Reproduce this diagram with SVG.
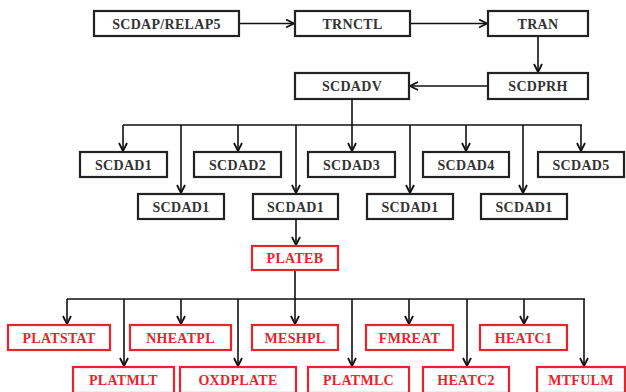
<svg xmlns="http://www.w3.org/2000/svg" width="626" height="392" viewBox="0 0 626 392">
<style>
.b rect{fill:#fff;stroke:#222;stroke-width:2.2}
.r rect{fill:#fff;stroke:#e8232b;stroke-width:2.2}
text{font-family:"Liberation Serif","Times New Roman",serif;font-weight:bold;font-size:14px;letter-spacing:0.3px;text-anchor:middle}
.b text{fill:#333}
.r text{fill:#e8232b}
#connectors path{fill:none;stroke:#111;stroke-width:1.6}
</style>
<defs>
<marker id="ah" viewBox="0 0 10 10" refX="9" refY="5" markerWidth="10" markerHeight="10" markerUnits="userSpaceOnUse" orient="auto">
<path d="M1,1 L9,5 L1,9" fill="none" stroke="#111" stroke-width="1.8"/>
</marker>
</defs>
<g id="connectors">
<path d="M239,23.5 H294" marker-end="url(#ah)"/>
<path d="M410,23.5 H487" marker-end="url(#ah)"/>
<path d="M538,36 V72" marker-end="url(#ah)"/>
<path d="M488,86 H410" marker-end="url(#ah)"/>
<path d="M352,99 V151" marker-end="url(#ah)"/>
<path d="M123,125 H582"/>
<path d="M123,125 V151" marker-end="url(#ah)"/>
<path d="M238,125 V151" marker-end="url(#ah)"/>
<path d="M466,125 V151" marker-end="url(#ah)"/>
<path d="M581,125 V151" marker-end="url(#ah)"/>
<path d="M181,125 V193" marker-end="url(#ah)"/>
<path d="M296,125 V193" marker-end="url(#ah)"/>
<path d="M410,125 V193" marker-end="url(#ah)"/>
<path d="M523,125 V193" marker-end="url(#ah)"/>
<path d="M296,219 V245" marker-end="url(#ah)"/>
<path d="M295,270 V324" marker-end="url(#ah)"/>
<path d="M67,299 H585"/>
<path d="M67,299 V324" marker-end="url(#ah)"/>
<path d="M181,299 V324" marker-end="url(#ah)"/>
<path d="M409,299 V324" marker-end="url(#ah)"/>
<path d="M524,299 V324" marker-end="url(#ah)"/>
<path d="M124,299 V366" marker-end="url(#ah)"/>
<path d="M238,299 V366" marker-end="url(#ah)"/>
<path d="M352,299 V366" marker-end="url(#ah)"/>
<path d="M467,299 V366" marker-end="url(#ah)"/>
<path d="M584,299 V366" marker-end="url(#ah)"/>
</g>
<g id="n_scdap" class="b"><rect x="94" y="11" width="145" height="25"/><text x="166.5" y="28.5">SCDAP/RELAP5</text></g>
<g id="n_trnctl" class="b"><rect x="295" y="11" width="115" height="25"/><text x="352.5" y="28.5">TRNCTL</text></g>
<g id="n_tran" class="b"><rect x="488" y="11" width="100" height="25"/><text x="538" y="28.5">TRAN</text></g>
<g id="n_scdprh" class="b"><rect x="488" y="73" width="100" height="26"/><text x="538" y="91">SCDPRH</text></g>
<g id="n_scdadv" class="b"><rect x="295" y="73" width="114" height="26"/><text x="352" y="91">SCDADV</text></g>
<g id="n_scdad1a" class="b"><rect x="80" y="152" width="87" height="25"/><text x="123.5" y="169.5">SCDAD1</text></g>
<g id="n_scdad2" class="b"><rect x="194" y="152" width="87" height="25"/><text x="237.5" y="169.5">SCDAD2</text></g>
<g id="n_scdad3" class="b"><rect x="308" y="152" width="87" height="25"/><text x="351.5" y="169.5">SCDAD3</text></g>
<g id="n_scdad4" class="b"><rect x="423" y="152" width="86" height="25"/><text x="466" y="169.5">SCDAD4</text></g>
<g id="n_scdad5" class="b"><rect x="538" y="152" width="86" height="25"/><text x="581" y="169.5">SCDAD5</text></g>
<g id="n_scdad1b" class="b"><rect x="138" y="194" width="86" height="25"/><text x="181" y="211.5">SCDAD1</text></g>
<g id="n_scdad1c" class="b"><rect x="253" y="194" width="85" height="25"/><text x="295.5" y="211.5">SCDAD1</text></g>
<g id="n_scdad1d" class="b"><rect x="367" y="194" width="86" height="25"/><text x="410" y="211.5">SCDAD1</text></g>
<g id="n_scdad1e" class="b"><rect x="481" y="194" width="86" height="25"/><text x="524" y="211.5">SCDAD1</text></g>
<g id="n_plateb" class="r"><rect x="252" y="246" width="86" height="24"/><text x="295" y="263">PLATEB</text></g>
<g id="n_platstat" class="r"><rect x="8" y="325" width="102" height="25"/><text x="59" y="342.5">PLATSTAT</text></g>
<g id="n_nheatpl" class="r"><rect x="130" y="325" width="101" height="25"/><text x="180.5" y="342.5">NHEATPL</text></g>
<g id="n_meshpl" class="r"><rect x="252" y="325" width="86" height="25"/><text x="295" y="342.5">MESHPL</text></g>
<g id="n_fmreat" class="r"><rect x="366" y="325" width="87" height="25"/><text x="409.5" y="342.5">FMREAT</text></g>
<g id="n_heatc1" class="r"><rect x="480" y="325" width="87" height="25"/><text x="523.5" y="342.5">HEATC1</text></g>
<g id="n_platmlt" class="r"><rect x="73" y="367" width="101" height="26"/><text x="123.5" y="385">PLATMLT</text></g>
<g id="n_oxdplate" class="r"><rect x="180" y="367" width="116" height="26"/><text x="238" y="385">OXDPLATE</text></g>
<g id="n_platmlc" class="r"><rect x="308" y="367" width="101" height="26"/><text x="358.5" y="385">PLATMLC</text></g>
<g id="n_heatc2" class="r"><rect x="423" y="367" width="86" height="26"/><text x="466" y="385">HEATC2</text></g>
<g id="n_mtfulm" class="r"><rect x="537" y="367" width="88" height="26"/><text x="581" y="385">MTFULM</text></g>
</svg>
